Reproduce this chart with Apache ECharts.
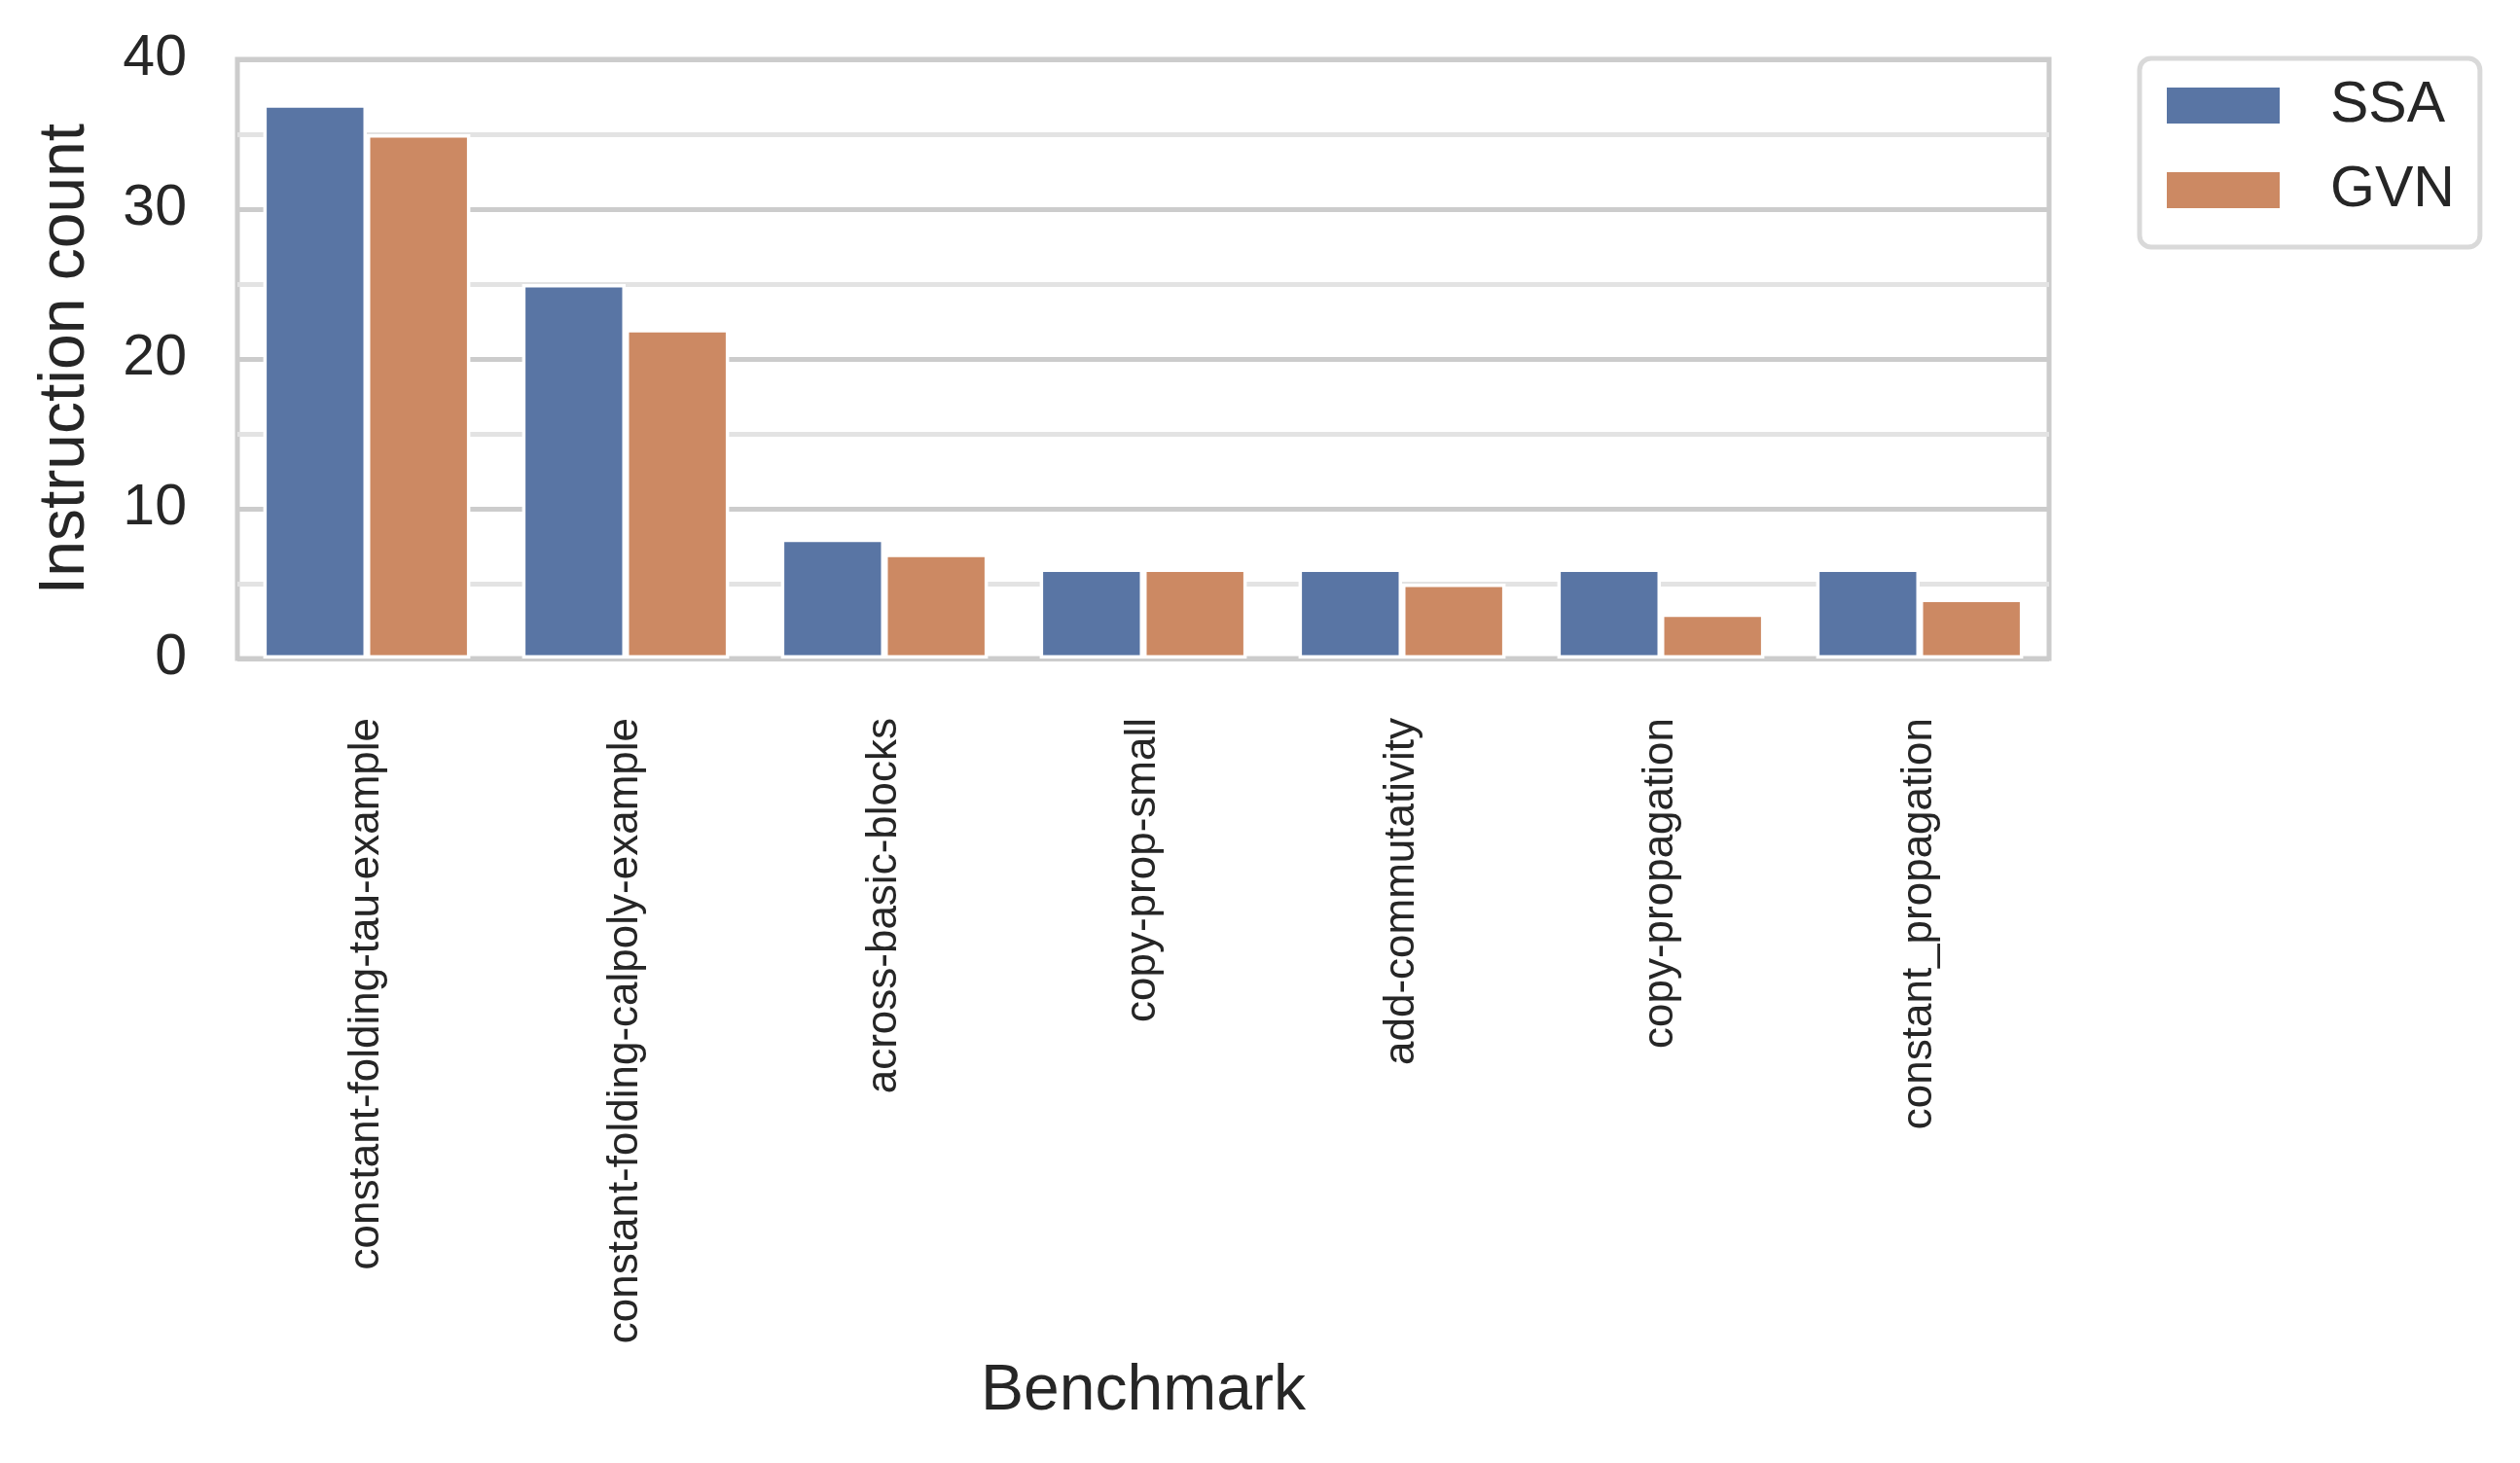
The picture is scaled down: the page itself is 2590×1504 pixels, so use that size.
<!DOCTYPE html>
<html>
<head>
<meta charset="utf-8">
<script src="https://cdn.jsdelivr.net/npm/echarts@6/dist/echarts.min.js"></script>
<style>
  html, body { margin: 0; padding: 0; background: #ffffff; }
  #chart { width: 2590px; height: 1504px; }
</style>
</head>
<body>
<div id="chart"></div>
<script>
const categories = [
  'constant-folding-tau-example',
  'constant-folding-calpoly-example',
  'across-basic-blocks',
  'copy-prop-small',
  'add-commutativity',
  'copy-propagation',
  'constant_propagation'
];
const seriesNames = ['SSA', 'GVN'];
const ssaValues = [37, 25, 8, 6, 6, 6, 6];
const gvnValues = [35, 22, 7, 6, 5, 3, 4];
const yTicks = [0, 10, 20, 30, 40];

const FONT = '"Liberation Sans", Arial, Helvetica, sans-serif';
const TEXT = '#262626';

const chart = echarts.init(document.getElementById('chart'), null, { renderer: 'canvas' });

const option = {
  backgroundColor: '#ffffff',
  animation: false,
  textStyle: { fontFamily: FONT, color: TEXT },
  grid: {
    left: 244, right: 484, top: 61, bottom: 827,
    show: true, borderColor: '#cccccc', borderWidth: 5,
    backgroundColor: 'transparent', containLabel: false
  },
  legend: {
    data: seriesNames,
    orient: 'vertical',
    left: 2199, top: 60,
    padding: [19, 26, 29, 28],
    itemWidth: 116, itemHeight: 37,
    itemGap: 28,
    icon: 'rect',
    itemStyle: { borderWidth: 0 },
    borderColor: '#d9d9d9', borderWidth: 5, borderRadius: 12,
    backgroundColor: '#ffffff',
    textStyle: { fontFamily: FONT, fontSize: 59, color: TEXT, padding: [0, 0, 0, 47], lineHeight: 37 }
  },
  xAxis: {
    type: 'category',
    data: categories,
    axisLine: { show: false },
    axisTick: { show: false },
    splitLine: { show: false },
    axisLabel: {
      rotate: 90, fontSize: 44, color: TEXT, fontFamily: FONT, margin: 61, interval: 0
    },
    name: 'Benchmark',
    nameLocation: 'middle',
    nameGap: 754,
    nameTextStyle: { fontSize: 66, color: TEXT, fontFamily: FONT, verticalAlign: 'middle' }
  },
  yAxis: {
    type: 'value',
    min: yTicks[0], max: yTicks[yTicks.length - 1], interval: 10,
    axisLine: { show: false },
    axisTick: { show: false },
    axisLabel: { fontSize: 59, color: TEXT, fontFamily: FONT, margin: 52 },
    splitLine: { show: true, lineStyle: { color: '#cccccc', width: 5 } },
    minorTick: { show: false, splitNumber: 2 },
    minorSplitLine: { show: true, lineStyle: { color: '#e3e3e3', width: 5 } },
    name: 'Instruction count',
    nameLocation: 'middle',
    nameGap: 176,
    nameRotate: 90,
    nameTextStyle: { fontSize: 66, color: TEXT, fontFamily: FONT, verticalAlign: 'middle' }
  },
  series: [
    {
      name: seriesNames[0], type: 'bar', data: ssaValues,
      barGap: '0%', barCategoryGap: '20%',
      itemStyle: { color: '#5975a4', borderColor: '#ffffff', borderWidth: 3.5 }
    },
    {
      name: seriesNames[1], type: 'bar', data: gvnValues,
      barGap: '0%', barCategoryGap: '20%',
      itemStyle: { color: '#cc8963', borderColor: '#ffffff', borderWidth: 3.5 }
    }
  ]
};

chart.setOption(option);
</script>
</body>
</html>
